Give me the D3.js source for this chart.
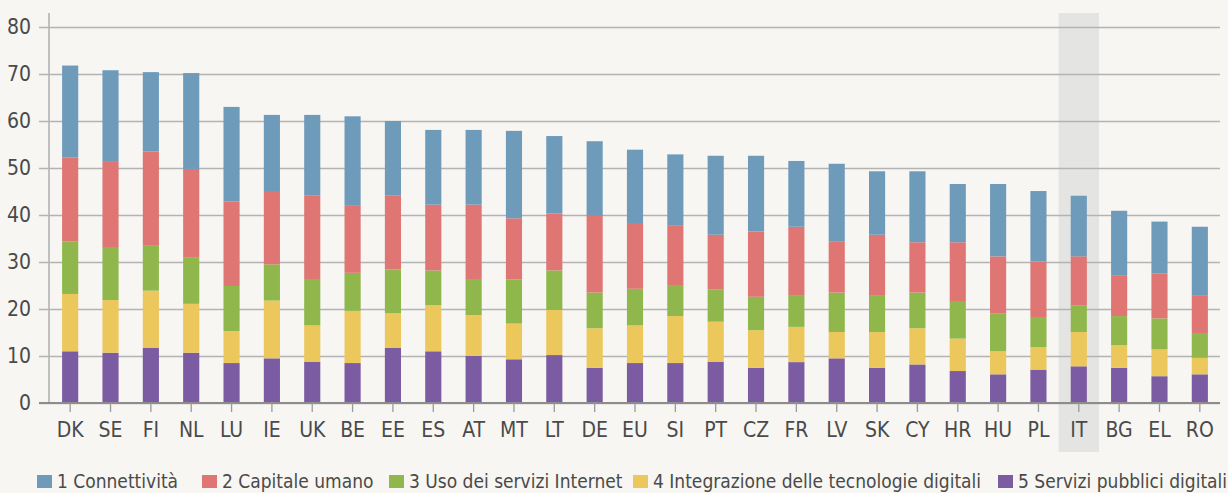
<!DOCTYPE html>
<html>
<head>
<meta charset="utf-8">
<script src="https://cdn.jsdelivr.net/npm/d3@7"></script>
<style>
  body { margin: 0; background: #f7f6f3; }
  svg { display: block; }
  text { font-family: "Liberation Sans Narrow", "DejaVu Sans Condensed", sans-serif; fill: #4a4a4a; }
</style>
</head>
<body>
<div id="chart"></div>
<script>
// data
const countries = ["DK","SE","FI","NL","LU","IE","UK","BE","EE","ES","AT","MT","LT","DE","EU",
                   "SI","PT","CZ","FR","LV","SK","CY","HR","HU","PL","IT","BG","EL","RO"];

const servizi     = [11.0,10.7,11.7,10.7,8.5,9.5,8.8,8.5,11.7,11.0,10.0,9.3,10.2,7.5,8.5,8.5,8.8,7.5,8.7,9.5,7.5,8.2,6.8,6.1,7.1,7.8,7.5,5.7,6.1];
const integrazione= [12.2,11.2,12.2,10.4,6.8,12.3,7.7,11.1,7.4,9.8,8.7,7.6,9.6,8.4,8.0,10.0,8.5,8.0,7.5,5.6,7.6,7.7,6.9,4.9,4.8,7.3,4.8,5.7,3.5];
const usoInternet = [11.2,11.1,9.7,9.8,9.6,7.7,9.7,8.1,9.3,7.4,7.5,9.4,8.4,7.6,7.8,6.6,6.9,7.1,6.6,8.4,7.7,7.6,8.0,8.0,6.4,5.7,6.2,6.6,5.3];
const capitale    = [17.8,18.3,19.9,18.9,18.0,15.4,17.9,14.4,15.7,14.0,16.0,13.0,12.1,16.3,14.0,12.6,11.6,13.9,14.7,10.8,13.0,10.7,12.5,12.2,11.8,10.4,8.7,9.6,7.9];
const connettivita= [19.6,19.5,16.9,20.4,20.1,16.4,17.2,18.9,15.9,15.9,15.9,18.6,16.5,15.9,15.6,15.2,16.8,16.1,14.0,16.6,13.5,15.1,12.4,15.4,15.0,12.9,13.7,11.0,14.7];

const seriesNames = ["1 Connettività","2 Capitale umano","3 Uso dei servizi Internet",
                     "4 Integrazione delle tecnologie digitali","5 Servizi pubblici digitali"];
const yTicks = [0,10,20,30,40,50,60,70,80];
const highlight = "IT";

// stack from bottom: 5,4,3,2,1
const keys = ["s5","s4","s3","s2","s1"];
const colors = { s1: "#6f9bbb", s2: "#df7674", s3: "#8fb74c", s4: "#ecc75b", s5: "#7b5ba1" };
const legendKeys = ["s1","s2","s3","s4","s5"];

const rows = countries.map((c, i) => ({
  country: c,
  s5: servizi[i], s4: integrazione[i], s3: usoInternet[i], s2: capitale[i], s1: connettivita[i]
}));

const width = 1228, height = 493;
const svg = d3.select("#chart").append("svg")
  .attr("width", width).attr("height", height);

const x = d3.scaleBand().domain(countries).range([50, 1220]).paddingInner(0.6).paddingOuter(0.3);
const y = d3.scaleLinear().domain([0, 80]).range([403, 27]);

// highlight band behind Italy
const step = x.step();
svg.append("rect")
  .attr("x", x(highlight) + x.bandwidth() / 2 - step / 2)
  .attr("y", 13)
  .attr("width", step)
  .attr("height", 452 - 13)
  .attr("fill", "#e4e4e2");

// gridlines + y labels
const yAxis = svg.append("g")
  .attr("transform", "translate(49,0)")
  .call(d3.axisLeft(y).tickValues(yTicks).tickSize(10).tickPadding(8));
yAxis.select(".domain").remove();
yAxis.selectAll(".tick line").attr("stroke", "#b3b3b3").attr("stroke-width", 1.6)
  .attr("x2", 1220 - 49).attr("x1", -10);
yAxis.selectAll(".tick text").attr("font-size", 21).style("fill", "#4a4a4a");

// vertical axis line
svg.append("line")
  .attr("x1", 49).attr("x2", 49).attr("y1", 13).attr("y2", 403)
  .attr("stroke", "#b3b3b3").attr("stroke-width", 1.6);

// stacked bars
const stacked = d3.stack().keys(keys)(rows);
svg.append("g").selectAll("g")
  .data(stacked)
  .join("g")
  .attr("fill", d => colors[d.key])
  .selectAll("rect")
  .data(d => d)
  .join("rect")
  .attr("x", d => x(d.data.country))
  .attr("width", x.bandwidth())
  .attr("y", d => y(d[1]))
  .attr("height", d => y(d[0]) - y(d[1]));

// x axis
const xAxis = svg.append("g")
  .attr("transform", "translate(0,403)")
  .call(d3.axisBottom(x).tickSize(9).tickPadding(10));
xAxis.select(".domain").attr("stroke", "#8c8c8c").attr("stroke-width", 2)
  .attr("d", "M39,0H1220");
xAxis.selectAll(".tick line").attr("stroke", "#9a9a9a").attr("stroke-width", 1.3);
xAxis.selectAll(".tick text").attr("font-size", 21).style("fill", "#4a4a4a");

// legend
const legendX = [37, 202, 389, 633, 998];
const legend = svg.append("g").selectAll("g")
  .data(legendKeys)
  .join("g")
  .attr("transform", (d, i) => `translate(${legendX[i]},475)`);
legend.append("rect")
  .attr("width", 15).attr("height", 13)
  .attr("fill", d => colors[d]);
legend.append("text")
  .attr("x", 20).attr("y", 13)
  .attr("font-size", 19)
  .text((d, i) => seriesNames[i]);
</script>
</body>
</html>
